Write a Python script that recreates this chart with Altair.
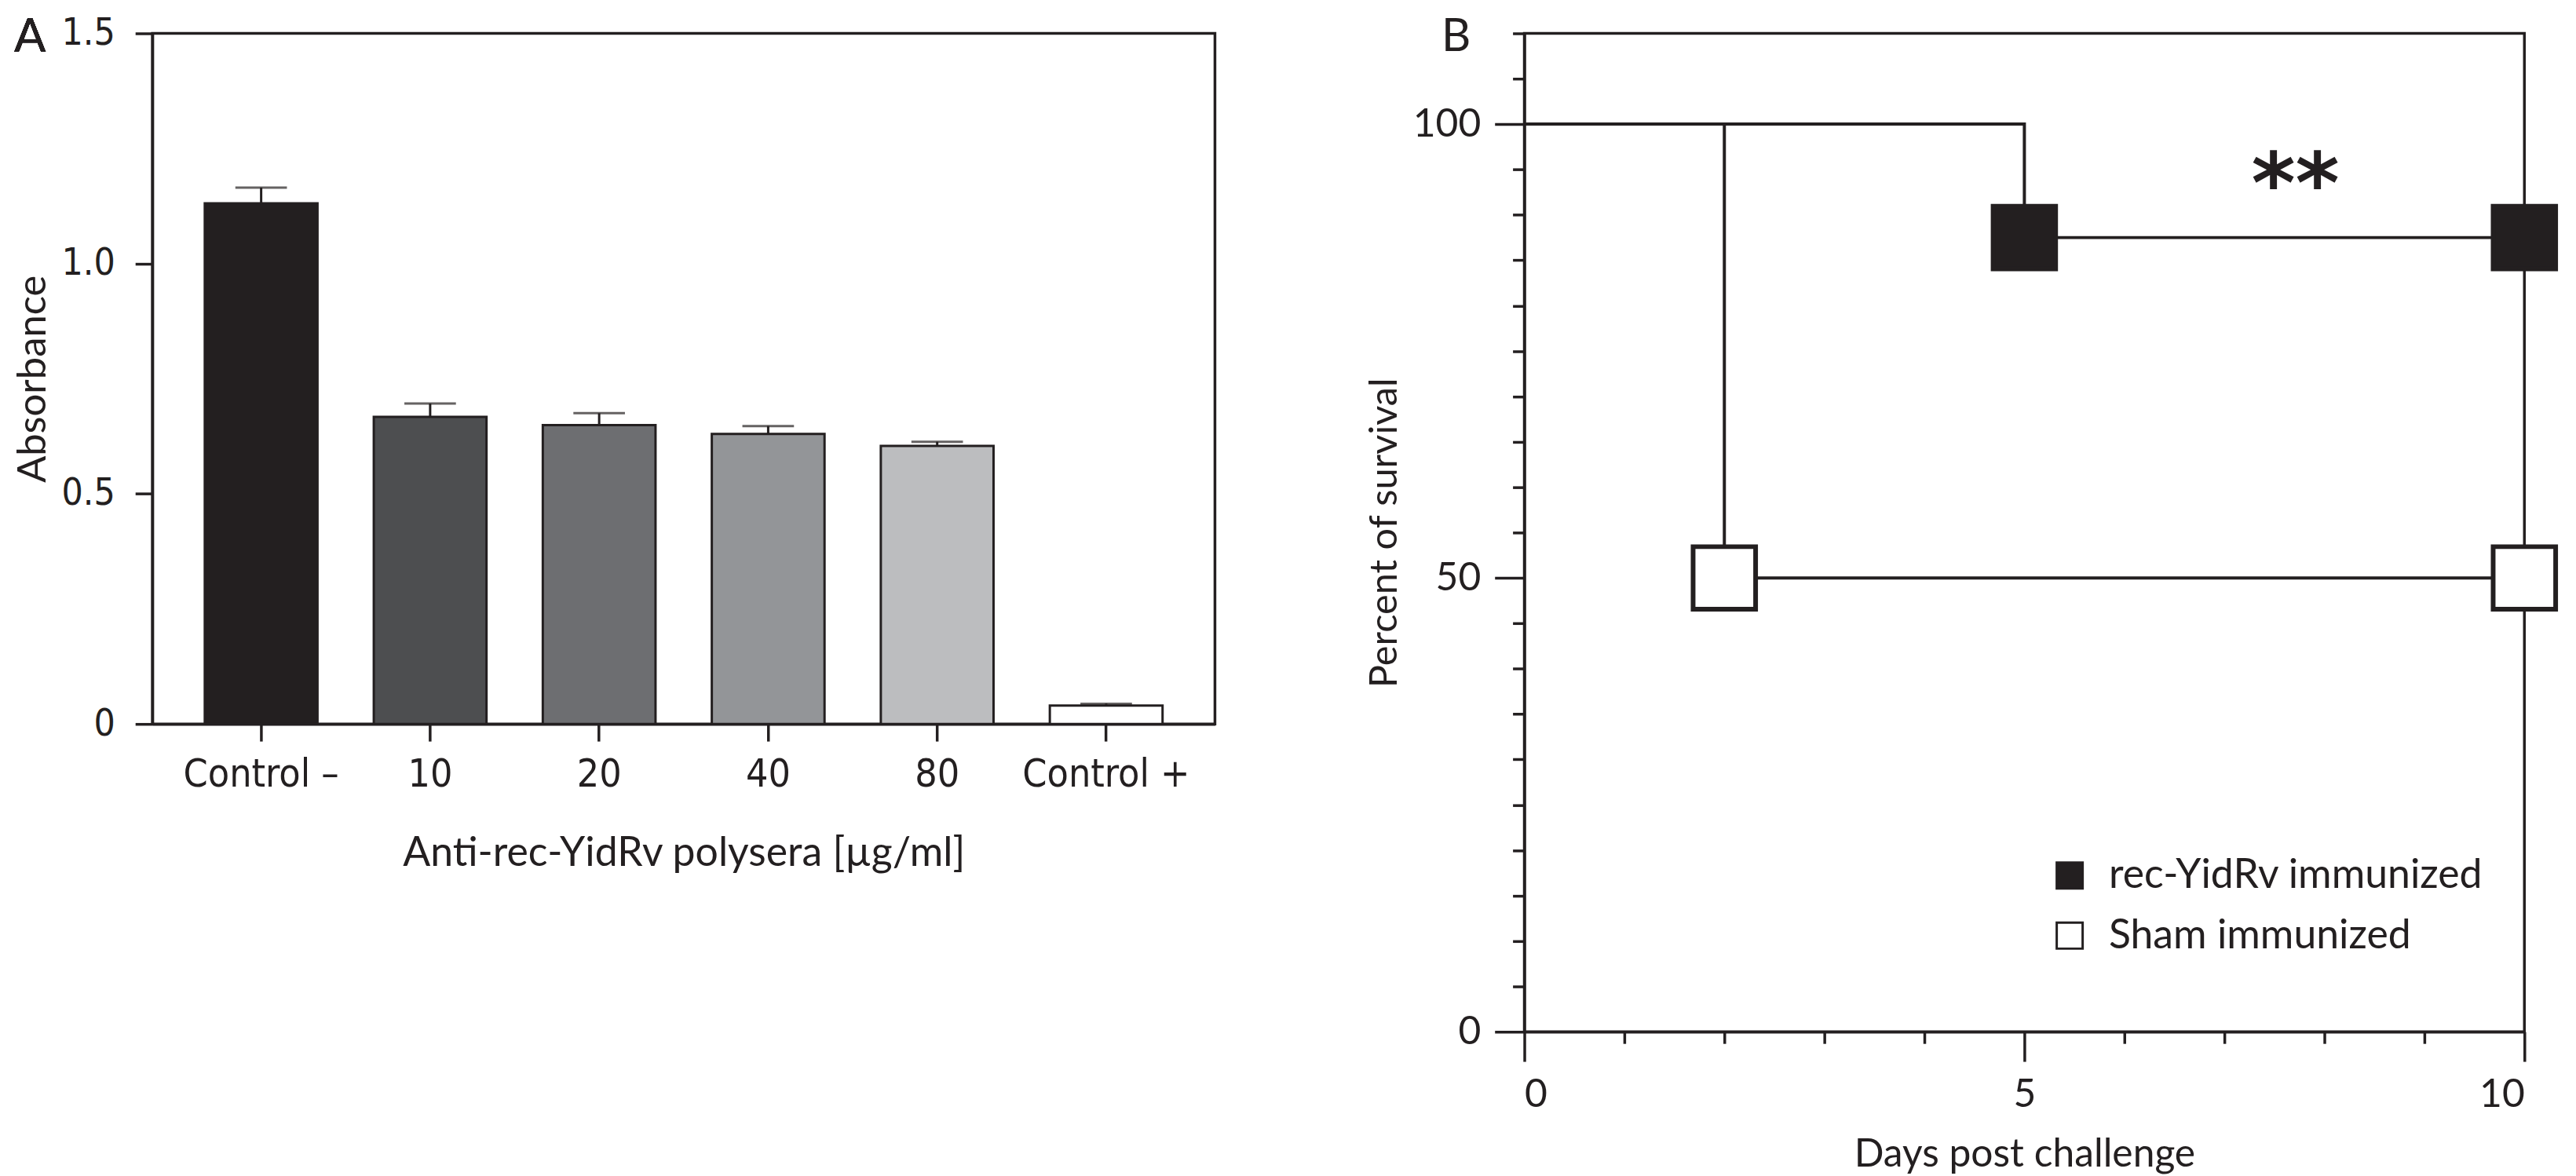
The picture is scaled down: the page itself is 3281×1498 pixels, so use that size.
import altair as alt
import pandas as pd

# ---------------- Panel A data ----------------
categories = ["Control –", "10", "20", "40", "80", "Control +"]
absorbance = [1.131, 0.667, 0.649, 0.630, 0.604, 0.040]
abs_err = [0.034, 0.029, 0.026, 0.017, 0.009, 0.004]
bar_colors = ["#231f20", "#4d4e50", "#6d6e71", "#939598", "#bcbdbf", "#ffffff"]
a_y_ticks = [0, 0.5, 1.0, 1.5]

# ---------------- Panel B data ----------------
groups = ["rec-YidRv immunized", "Sham immunized"]
rec_days = [0, 5, 10]
rec_surv = [100, 87.5, 87.5]
sham_days = [0, 2, 10]
sham_surv = [100, 50, 50]
group_fills = ["#231f20", "#ffffff"]
b_x_ticks = [0, 1, 2, 3, 4, 5, 6, 7, 8, 9, 10]
b_y_ticks = [0, 5, 10, 15, 20, 25, 30, 35, 40, 45, 50, 55, 60, 65, 70, 75, 80, 85, 90, 95, 100, 105, 110]
annot_x = [7.71]
annot_y = [93.0]
annot_text = ["**"]

INK = "#231f20"
FONT = "Lato"
NARROW = "DejaVu Sans Condensed, Lato"

# ---------------- Panel A ----------------
dfa = pd.DataFrame({
    "cat": categories,
    "value": absorbance,
    "upper": [v + e for v, e in zip(absorbance, abs_err)],
})

xa = alt.X(
    "cat:N", sort=categories,
    scale=alt.Scale(paddingInner=0.333, paddingOuter=0.31),
    axis=alt.Axis(title="Anti-rec-YidRv polysera [µg/ml]", labelAngle=0, labelLimit=0,
                  labelFont=NARROW, labelFontSize=50, tickSize=22, labelPadding=18,
                  titleFont=FONT, titleFontSize=52, titleFontWeight="normal",
                  titlePadding=50),
)
ya_scale = alt.Scale(domain=[0, 1.5], nice=False)
ya_axis = alt.Axis(title="Absorbance", values=a_y_ticks, format=".1f",
                   labelExpr="datum.value === 0 ? '0' : datum.label",
                   labelFont=NARROW, labelFontSize=48, tickSize=22, labelPadding=26,
                   titleFont=FONT, titleFontSize=51, titleFontWeight="normal",
                   titlePadding=10)

bars = alt.Chart(dfa).mark_bar(stroke=INK, strokeWidth=3).encode(
    x=xa,
    y=alt.Y("value:Q", scale=ya_scale, axis=ya_axis),
    color=alt.Color("cat:N", scale=alt.Scale(domain=categories, range=bar_colors), legend=None),
)
err_rule = alt.Chart(dfa).mark_rule(color=INK, strokeWidth=3).encode(
    x=alt.X("cat:N", sort=categories), y="value:Q", y2="upper:Q")
err_cap = alt.Chart(dfa).mark_tick(color=INK, thickness=3, size=66).encode(
    x=alt.X("cat:N", sort=categories), y="upper:Q")
label_a = alt.Chart(dfa).mark_text(text="A", font=FONT, fontSize=60, align="left",
                                    baseline="middle", color=INK).encode(
    x=alt.value(-177), y=alt.value(6))

panel_a = alt.layer(bars, err_rule, err_cap, label_a).properties(width=1360, height=884)

# ---------------- Panel B ----------------
rows = []
for d, s in zip(rec_days, rec_surv):
    rows.append({"group": groups[0], "day": d, "surv": s})
for d, s in zip(sham_days, sham_surv):
    rows.append({"group": groups[1], "day": d, "surv": s})
dfb = pd.DataFrame(rows)
dfm = dfb[dfb["day"] > 0]

xb = alt.X("day:Q", scale=alt.Scale(domain=[0, 10], nice=False),
           axis=alt.Axis(title="Days post challenge", values=b_x_ticks, format="d",
                         labelExpr="datum.value % 5 === 0 ? datum.label : ''",
                         tickSize={"condition": {"test": "datum.value % 5 === 0", "value": 38}, "value": 15},
                         labelFont=FONT, labelFontSize=50, labelPadding=18,
                         titleFont=FONT, titleFontSize=50, titleFontWeight="normal",
                         titlePadding=26))
yb = alt.Y("surv:Q", scale=alt.Scale(domain=[0, 110], nice=False),
           axis=alt.Axis(title="Percent of survival", values=b_y_ticks, format="d",
                         labelExpr="datum.value % 50 === 0 ? datum.label : ''",
                         tickSize={"condition": {"test": "datum.value % 50 === 0", "value": 38}, "value": 15},
                         labelFont=FONT, labelFontSize=50, labelPadding=18,
                         titleFont=FONT, titleFontSize=49, titleFontWeight="normal",
                         titlePadding=11))

lines = alt.Chart(dfb).mark_line(interpolate="step-after", color=INK, strokeWidth=4).encode(
    x=xb, y=yb, detail="group:N", order="day:Q")
markers = alt.Chart(dfm).mark_point(shape="square", filled=True, size=6400, stroke=INK,
                                    strokeWidth=6, opacity=1).encode(
    x="day:Q", y="surv:Q",
    color=alt.Color("group:N", scale=alt.Scale(domain=groups, range=group_fills),
                    legend=alt.Legend(title=None, orient="none", legendX=672, legendY=1052,
                                      symbolType="square", symbolSize=1100,
                                      symbolStrokeColor=INK, symbolStrokeWidth=3,
                                      symbolOpacity=1,
                                      labelFont=FONT, labelFontSize=52, labelColor=INK,
                                      labelLimit=0, labelOffset=24, rowPadding=25)),
)
dfa_annot = pd.DataFrame({"x": annot_x, "y": annot_y, "t": annot_text})
stars = alt.Chart(dfa_annot).mark_text(font="DejaVu Sans", fontWeight="bold", fontSize=108,
                                       baseline="middle", color=INK).encode(
    x="x:Q", y="y:Q", text="t:N")
label_b = alt.Chart(dfa_annot).mark_text(text="B", font=FONT, fontSize=58, align="left",
                                          baseline="middle", color=INK).encode(
    x=alt.value(-106), y=alt.value(6))

panel_b = alt.layer(lines, markers, stars, label_b).properties(width=1280, height=1278)

chart = alt.hconcat(panel_a, panel_b, spacing=189).resolve_scale(
    color="independent"
).properties(
    padding={"left": 6, "top": 5, "right": 4, "bottom": 4}, background="white"
).configure_view(stroke=INK, strokeWidth=3.5).configure_axis(
    domainColor=INK, domainWidth=3.5, tickColor=INK, tickWidth=3.5,
    labelColor=INK, titleColor=INK, grid=False,
)

chart.save("out.html", embed_options={"renderer": "svg", "actions": False})
